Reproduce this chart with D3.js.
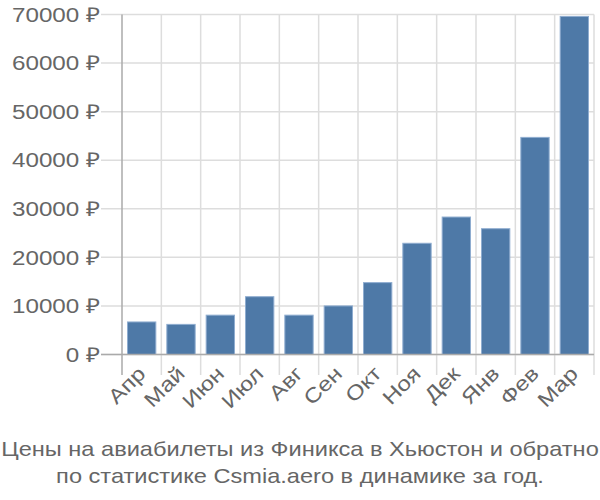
<!DOCTYPE html>
<html><head><meta charset="utf-8">
<script src="https://cdn.jsdelivr.net/npm/d3@7"></script>
<style>body{margin:0;background:#fff}svg{display:block}text{font-family:"Liberation Sans",Arial,sans-serif}</style>
</head><body>
<svg id="c" width="600" height="500"></svg>
<script>
const categories = ["Апр","Май","Июн","Июл","Авг","Сен","Окт","Ноя","Дек","Янв","Фев","Мар"];
const prices = [6700,6200,8100,11900,8100,10000,14800,22900,28300,25900,44700,69600];
const yTicks = [0,10000,20000,30000,40000,50000,60000,70000];
const titleLines = ["Цены на авиабилеты из Финикса в Хьюстон и обратно","по статистике Csmia.aero в динамике за год."];

const svg = d3.select("#c");
const L = 122, R = 594, T = 14.5, B = 354.5;
const SX = 1.18;
const x = d3.scaleBand().domain(categories).range([L, R]).paddingInner(0.28).paddingOuter(0.14);
const xb = d3.scaleBand().domain(categories).range([L, R]);
const y = d3.scaleLinear().domain([0, 70000]).range([B, T]);

// horizontal grid
svg.append("g").selectAll("line").data(yTicks).join("line")
  .attr("x1", 101).attr("x2", R).attr("y1", d => y(d)).attr("y2", d => y(d))
  .attr("stroke", "#ddd").attr("stroke-width", 1.5);
// vertical grid
const bounds = categories.map(c => xb(c)).concat([R]);
svg.append("g").selectAll("line").data(bounds.slice(1)).join("line")
  .attr("x1", d => d).attr("x2", d => d).attr("y1", T).attr("y2", 375)
  .attr("stroke", "#ddd").attr("stroke-width", 1.5);

// bars
svg.append("g").selectAll("rect").data(prices).join("rect")
  .attr("x", (d, i) => x(categories[i]))
  .attr("width", x.bandwidth())
  .attr("y", d => y(d))
  .attr("height", d => B - y(d))
  .attr("fill", "#4e79a7").attr("stroke", "#8fadd0").attr("stroke-width", 1);

// axes lines
svg.append("line").attr("x1", L).attr("x2", L).attr("y1", T).attr("y2", 375).attr("stroke", "#aaa").attr("stroke-width", 1.5);
svg.append("line").attr("x1", 101).attr("x2", R).attr("y1", B).attr("y2", B).attr("stroke", "#aaa").attr("stroke-width", 1.5);

// y labels
svg.append("g").selectAll("text").data(yTicks).join("text")
  .attr("transform", d => `translate(100,${y(d)}) scale(${SX},1)`)
  .attr("dy", "0.35em")
  .attr("text-anchor", "end").attr("fill", "#666").attr("font-size", 20.5)
  .text(d => d + " ₽");

// x labels
svg.append("g").selectAll("text").data(categories).join("text")
  .attr("text-anchor", "end").attr("fill", "#666").attr("font-size", 20.5)
  .attr("transform", d => `translate(${xb(d) + xb.bandwidth()/2 + 5},${375}) rotate(-45) scale(${SX},1)`)
  .text(d => d);

// title
svg.append("g").selectAll("text").data(titleLines).join("text")
  .attr("transform", (d, i) => `translate(300,${456 + i * 27}) scale(${SX},1)`)
  .attr("text-anchor", "middle").attr("fill", "#666").attr("font-size", 20)
  .text(d => d);
</script>
</body></html>
